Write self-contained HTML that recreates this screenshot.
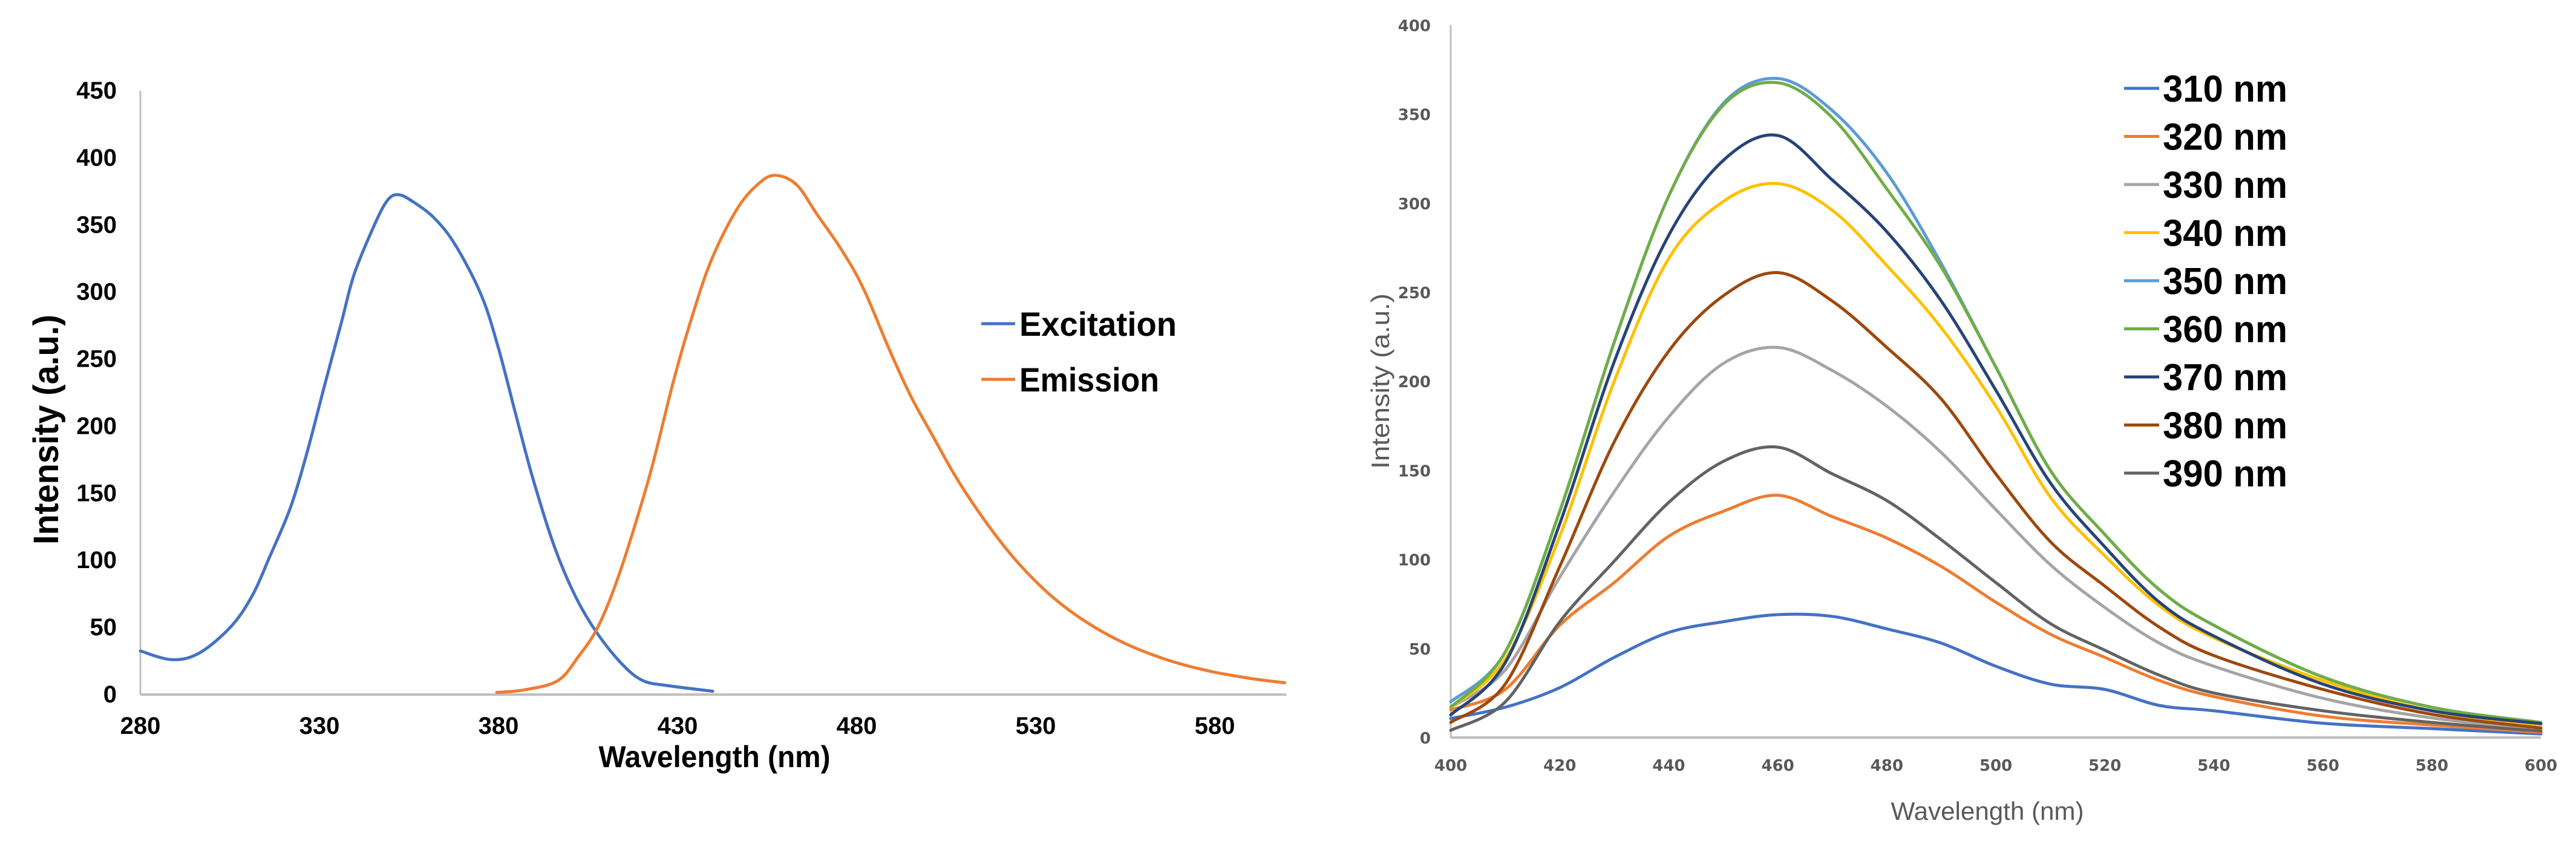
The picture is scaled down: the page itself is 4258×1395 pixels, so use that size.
<!DOCTYPE html>
<html><head><meta charset="utf-8"><style>
html,body{margin:0;padding:0;background:#fff;}
svg{display:block;}
</style></head><body>
<svg id="svg" width="4258" height="1395" viewBox="0 0 4258 1395" xmlns="http://www.w3.org/2000/svg">
<rect width="4258" height="1395" fill="#fff"/>
<g id="left"></g>
<g id="right"></g>
</svg>
<script>
// ---- Left chart data ----
const exWl = [280,288.8,296.5,305.4,311.3,316,322,326.7,331.4,336.2,339.8,345.7,349.2,352.2,356.3,362.3,368.2,375.3,380,384.8,389.5,395.5,401.4,407.3,414.4,420.3,427.4,439.8];
const exVal = [32.5,26,31,51,74,102,140,182,230,278,314,352,369,372.5,367,354.5,334,297,258,209,162,111,73.6,46.7,23,10.4,6.6,2.5];
const emWl = [379.5,387.2,396.6,402.5,407.3,412,416.8,422.7,428.6,433.4,439.3,446.4,452.3,457.2,463.2,468.9,475.9,482,489.3,495.2,501.1,508.2,516.5,524.8,534.3,543.8,554.4,566.3,578.1,590,599.5];
const emVal = [1.6,3.5,10.4,29,48,77,115,168,231,276,323,361,380,387,380,358,331,302,256,222,193.5,160,127,99,73.6,54.6,38.8,26.2,17.7,12,8.8];
const leftXTicks = [280,330,380,430,480,530,580];
const leftYTicks = [0,50,100,150,200,250,300,350,400,450];
const leftSeriesNames = ["Excitation","Emission"];

// ---- Right chart data ----
const rWl = [400,410,420,430,440,450,460,470,480,490,500,510,520,530,540,560,580,600];
const rNames = ["310 nm","320 nm","330 nm","340 nm","350 nm","360 nm","370 nm","380 nm","390 nm"];
const s310 = [10.7,17,28,45,59,65,69,68,61,53,40,30,27,18,15,8,5,2];
const s320 = [15.5,27,63,87,113,127,136,124,112,96,76,58,45,32,23,12,7,3];
const s330 = [17,38,90,138,180,210,219,206,186,160,128,97,73,53,40,22,11,4.4];
const s340 = [17,44,113,200,269,301,311,296,265,230,186,135,102,74,56,32,15,7];
const s350 = [20,48,127,222,304,356,370,352,317,266,208,150,114,83,63,34,17,8];
const s360 = [17,48,127,222,304,355,367.6,348,308,264,208,150,114,83,63,34,17,8.5];
const s370 = [12.7,42,120,211,282,324,338,313,284,245,195,143,107,76,57,30,15,7.8];
const s380 = [8.5,30,96,166,217,248,261,245,219,190,148,110,85,62,46,27,13,5.3];
const s390 = [4,20,65,99,132,155,163,148,133,111,87,64,49,35,25,15,8.5,3.6];
const rSeries = [s310,s320,s330,s340,s350,s360,s370,s380,s390];
const rColors = ["#4472C4","#ED7D31","#A5A5A5","#FFC000","#5B9BD5","#70AD47","#264478","#9E480E","#636363"];
const rXTicks = [400,420,440,460,480,500,520,540,560,580,600];
const rYTicks = [0,50,100,150,200,250,300,350,400];

const NS = "http://www.w3.org/2000/svg";
function mk(parent, tag, attrs, text){
  const e = document.createElementNS(NS, tag);
  for (const k in attrs) e.setAttribute(k, attrs[k]);
  if (text !== undefined) e.textContent = text;
  parent.appendChild(e);
  return e;
}
function smooth(pts){
  let d = "M" + pts[0][0].toFixed(1) + "," + pts[0][1].toFixed(1);
  for (let i = 0; i < pts.length - 1; i++){
    const p0 = pts[Math.max(0,i-1)], p1 = pts[i], p2 = pts[i+1], p3 = pts[Math.min(pts.length-1,i+2)];
    const c1x = p1[0] + (p2[0]-p0[0])/6, c1y = p1[1] + (p2[1]-p0[1])/6;
    const c2x = p2[0] - (p3[0]-p1[0])/6, c2y = p2[1] - (p3[1]-p1[1])/6;
    d += " C" + c1x.toFixed(1)+","+c1y.toFixed(1)+" "+c2x.toFixed(1)+","+c2y.toFixed(1)+" "+p2[0].toFixed(1)+","+p2[1].toFixed(1);
  }
  return d;
}

// ---- Left chart ----
const L = document.getElementById("left");
const lx = v => 232 + (v - 280) * 5.92;
const ly = v => 1148 - v * (998 / 450);
leftYTicks.forEach(t => {
  const e = mk(L, "text", {x:193, y:ly(t)+13, "text-anchor":"end", "font-family":"Liberation Sans Narrow, Liberation Sans, sans-serif", "font-weight":"bold", "font-size":40, fill:"#000"}, String(t));
  
  
});
leftXTicks.forEach(t => {
  const e = mk(L, "text", {x:lx(t), y:1213, "text-anchor":"middle", "font-family":"Liberation Sans Narrow, Liberation Sans, sans-serif", "font-weight":"bold", "font-size":40, fill:"#000"}, String(t));
  
  
});
let ax = mk(L, "line", {x1:232, y1:150, x2:232, y2:1148, stroke:"#bfbfbf", "stroke-width":3});


ax = mk(L, "line", {x1:232, y1:1148, x2:lx(600), y2:1148, stroke:"#bfbfbf", "stroke-width":4});


let p = mk(L, "path", {d:smooth(exWl.map((w,i)=>[lx(w),ly(exVal[i])])), fill:"none", stroke:"#4472C4", "stroke-width":5, "stroke-linejoin":"round", "stroke-linecap":"round"});


p = mk(L, "path", {d:smooth(emWl.map((w,i)=>[lx(w),ly(emVal[i])])), fill:"none", stroke:"#ED7D31", "stroke-width":5, "stroke-linejoin":"round", "stroke-linecap":"round"});


let t = mk(L, "text", {x:1181, y:1268, "text-anchor":"middle", "font-family":"Liberation Sans, sans-serif", "font-weight":"bold", "font-size":50, textLength:383, lengthAdjust:"spacingAndGlyphs", fill:"#000"}, "Wavelength (nm)");


t = mk(L, "text", {x:0, y:0, transform:"translate(96,710) rotate(-90)", "text-anchor":"middle", "font-family":"Liberation Sans, sans-serif", "font-weight":"bold", "font-size":58, textLength:380, lengthAdjust:"spacingAndGlyphs", fill:"#000"}, "Intensity (a.u.)");


const lcol = ["#4472C4","#ED7D31"], lyy = [535, 627], lw = [260, 231];
leftSeriesNames.forEach((n,i) => {
  const g = mk(L, "g", {});
  
  
  mk(g, "line", {x1:1622, y1:lyy[i], x2:1678, y2:lyy[i], stroke:lcol[i], "stroke-width":5});
  mk(g, "text", {x:1685, y:lyy[i]+20, "font-family":"Liberation Sans, sans-serif", "font-weight":"bold", "font-size":56, textLength:lw[i], lengthAdjust:"spacingAndGlyphs", fill:"#000"}, n);
});

// ---- Right chart ----
const R = document.getElementById("right");
const rx = v => 2398 + (v - 400) * 9.01;
const ry = v => 1219 - v * 2.944;
rYTicks.forEach(v => {
  const e = mk(R, "text", {x:2365, y:ry(v)+10, "text-anchor":"end", "font-family":"DejaVu Sans, sans-serif", "font-weight":"bold", "font-size":26, fill:"#595959"}, String(v));
  
  
});
rXTicks.forEach(v => {
  const e = mk(R, "text", {x:rx(v), y:1274, "text-anchor":"middle", "font-family":"DejaVu Sans, sans-serif", "font-weight":"bold", "font-size":26, fill:"#595959"}, String(v));
  
  
});
ax = mk(R, "line", {x1:2398, y1:41, x2:2398, y2:1219, stroke:"#bfbfbf", "stroke-width":3});


ax = mk(R, "line", {x1:2398, y1:1219, x2:4200, y2:1219, stroke:"#bfbfbf", "stroke-width":4});


rSeries.forEach((s,i) => {
  const e = mk(R, "path", {d:smooth(rWl.map((w,j)=>[rx(w),ry(s[j])])), fill:"none", stroke:rColors[i], "stroke-width":5, "stroke-linejoin":"round", "stroke-linecap":"round"});
  
  
});
t = mk(R, "text", {x:3285, y:1355, "text-anchor":"middle", "font-family":"Liberation Sans Narrow, Liberation Sans, sans-serif", "font-size":42, textLength:319, lengthAdjust:"spacingAndGlyphs", fill:"#595959"}, "Wavelength (nm)");


t = mk(R, "text", {x:0, y:0, transform:"translate(2296,630) rotate(-90)", "text-anchor":"middle", "font-family":"Liberation Sans Narrow, Liberation Sans, sans-serif", "font-size":42, textLength:290, lengthAdjust:"spacingAndGlyphs", fill:"#595959"}, "Intensity (a.u.)");


rNames.forEach((n,i) => {
  const y = 146 + i * 79.5;
  const g = mk(R, "g", {});
  
  
  mk(g, "line", {x1:3511, y1:y, x2:3569, y2:y, stroke:rColors[i], "stroke-width":5});
  mk(g, "text", {x:3575, y:y+22, "font-family":"Liberation Sans, sans-serif", "font-weight":"bold", "font-size":62, textLength:206, lengthAdjust:"spacingAndGlyphs", fill:"#000"}, n);
});
</script>
</body></html>
